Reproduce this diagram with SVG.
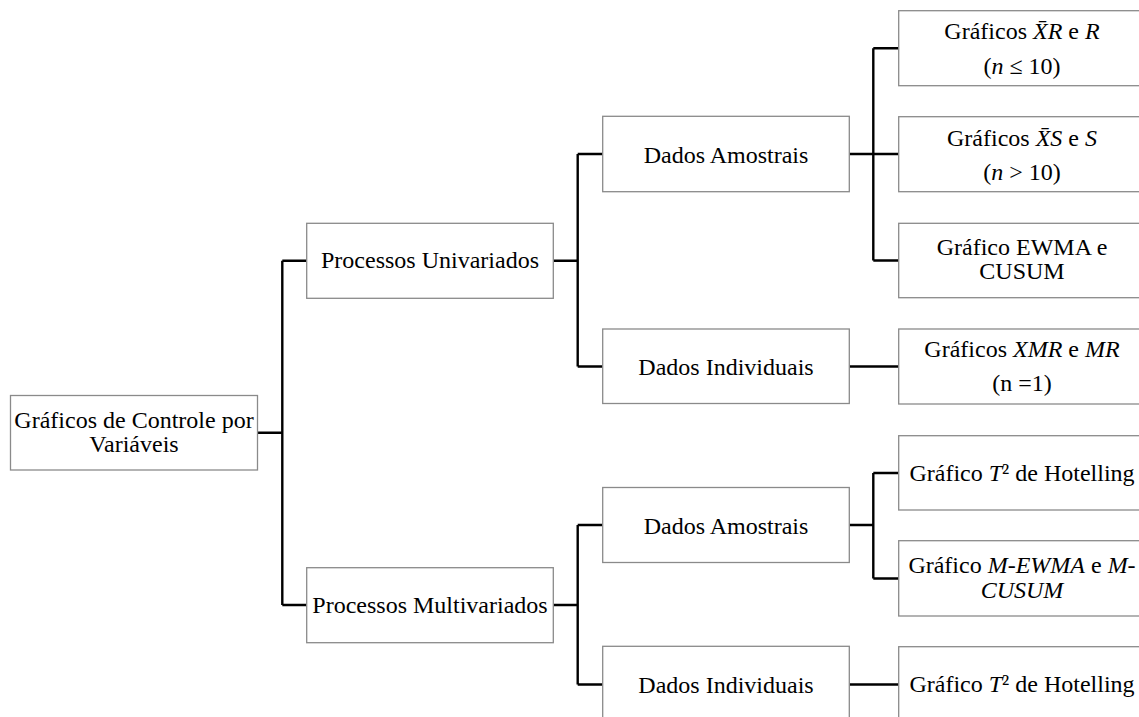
<svg xmlns="http://www.w3.org/2000/svg" width="1139" height="717" viewBox="0 0 1139 717">
  <style>
    .box { fill: #ffffff; stroke: #8a8a8a; stroke-width: 1.3; }
    .lbl { font-family: "Liberation Serif", "Times New Roman", serif; font-size: 24px; fill: #000000; text-anchor: middle; }
    .it { font-style: italic; }
    .wire { fill: none; stroke: #000000; stroke-width: 2.4; stroke-linejoin: miter; stroke-linecap: butt; }
  </style>
  <rect width="1139" height="717" fill="#ffffff"/>

  <!-- tree connectors -->
  <g id="connectors" class="wire">
    <path d="M257.5,432.7 H282.3 M282.3,260.8 V605 M282.3,260.8 H306.7 M282.3,605 H306.7"/>
    <path d="M553.3,260.8 H577.7 M577.7,154 V366.5 M577.7,154 H602.7 M577.7,366.5 H602.7"/>
    <path d="M553.3,605 H577.7 M577.7,525 V684.5 M577.7,525 H602.7 M577.7,684.5 H602.7"/>
    <path d="M849.3,154 H873.3 M873.3,48.2 V260.5 M873.3,48.2 H898.7 M873.3,154 H898.7 M873.3,260.5 H898.7"/>
    <path d="M849.3,366.5 H898.7"/>
    <path d="M849.3,525 H873.3 M873.3,473 V578.5 M873.3,473 H898.7 M873.3,578.5 H898.7"/>
    <path d="M849.3,684.5 H898.7"/>
  </g>

  <!-- level 0 -->
  <g id="root">
    <rect class="box" x="10.5" y="395.5" width="247" height="74.5"/>
    <text class="lbl" x="134" y="428">Gráficos de Controle por</text>
    <text class="lbl" x="134" y="451.7">Variáveis</text>
  </g>

  <!-- level 1 -->
  <g id="univariados">
    <rect class="box" x="306.7" y="223.3" width="246.6" height="75"/>
    <text class="lbl" x="430" y="268.3">Processos Univariados</text>
  </g>
  <g id="multivariados">
    <rect class="box" x="306.7" y="567.7" width="246.6" height="75"/>
    <text class="lbl" x="430" y="612.7">Processos Multivariados</text>
  </g>

  <!-- level 2 -->
  <g id="uni-amostrais">
    <rect class="box" x="602.7" y="116.3" width="246.6" height="75.4"/>
    <text class="lbl" x="726" y="163">Dados Amostrais</text>
  </g>
  <g id="uni-individuais">
    <rect class="box" x="602.7" y="329" width="246.6" height="74.5"/>
    <text class="lbl" x="726" y="375">Dados Individuais</text>
  </g>
  <g id="multi-amostrais">
    <rect class="box" x="602.7" y="487.5" width="246.6" height="75"/>
    <text class="lbl" x="726" y="534">Dados Amostrais</text>
  </g>
  <g id="multi-individuais">
    <rect class="box" x="602.7" y="646.3" width="246.6" height="75"/>
    <text class="lbl" x="726" y="693.3">Dados Individuais</text>
  </g>

  <!-- level 3 -->
  <g id="xr-r">
    <rect class="box" x="898.7" y="10.7" width="247" height="75"/>
    <text class="lbl" x="1022" y="39">Gráficos <tspan class="it">X̄R</tspan> e <tspan class="it">R</tspan></text>
    <text class="lbl" x="1022" y="74">(<tspan class="it">n</tspan> ≤ 10)</text>
  </g>
  <g id="xs-s">
    <rect class="box" x="898.7" y="116.7" width="247" height="75"/>
    <text class="lbl" x="1022" y="145.7">Gráficos <tspan class="it">X̄S</tspan> e <tspan class="it">S</tspan></text>
    <text class="lbl" x="1022" y="180">(<tspan class="it">n</tspan> &gt; 10)</text>
  </g>
  <g id="ewma-cusum">
    <rect class="box" x="898.7" y="223.3" width="247" height="74.4"/>
    <text class="lbl" x="1022" y="255">Gráfico EWMA e</text>
    <text class="lbl" x="1022" y="279.3">CUSUM</text>
  </g>
  <g id="xmr-mr">
    <rect class="box" x="898.7" y="329" width="247" height="75"/>
    <text class="lbl" x="1022" y="356.7">Gráficos <tspan class="it">XMR</tspan> e <tspan class="it">MR</tspan></text>
    <text class="lbl" x="1022" y="390.7">(n =1)</text>
  </g>
  <g id="t2-amostrais">
    <rect class="box" x="898.7" y="435.7" width="247" height="74.3"/>
    <text class="lbl" x="1022" y="481">Gráfico <tspan class="it">T</tspan>² de Hotelling</text>
  </g>
  <g id="mewma-mcusum">
    <rect class="box" x="898.7" y="540.7" width="247" height="75.3"/>
    <text class="lbl" x="1022" y="573.3">Gráfico <tspan class="it">M-EWMA</tspan> e <tspan class="it">M-</tspan></text>
    <text class="lbl it" x="1022" y="598.3">CUSUM</text>
  </g>
  <g id="t2-individuais">
    <rect class="box" x="898.7" y="646.7" width="247" height="75"/>
    <text class="lbl" x="1022" y="691.7">Gráfico <tspan class="it">T</tspan>² de Hotelling</text>
  </g>
</svg>
